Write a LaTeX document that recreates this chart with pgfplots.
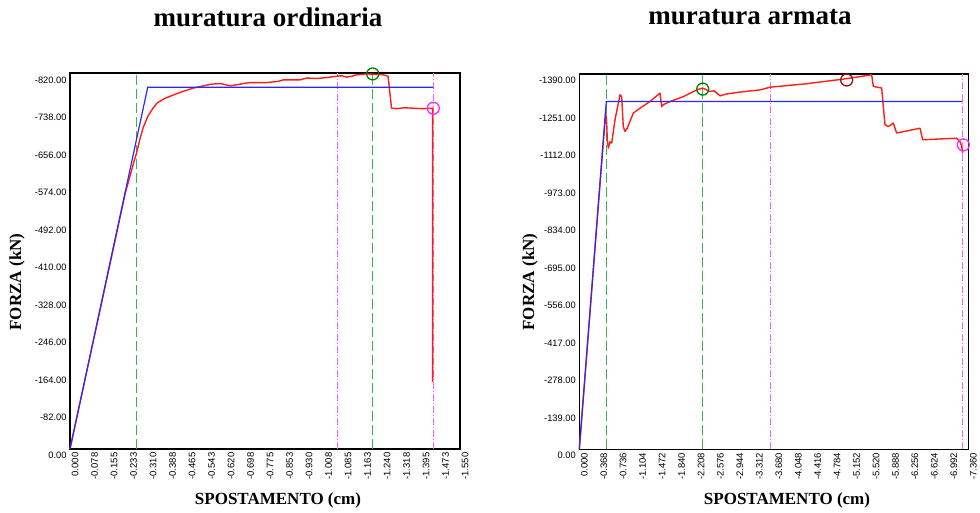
\documentclass[border=0pt]{standalone}
\usepackage{fontspec}
\usepackage{pgfplots}
\pgfplotsset{compat=1.18}
\setmainfont{Liberation Serif}
\newfontfamily\tickfont{Liberation Sans}
\definecolor{cred}{RGB}{255,30,20}
\definecolor{cblue}{RGB}{40,40,255}
\definecolor{cgreen}{RGB}{60,180,80}
\definecolor{cpink}{RGB}{255,100,255}
\definecolor{cgcirc}{RGB}{0,130,0}
\definecolor{cmcirc}{RGB}{255,40,255}
\definecolor{cdcirc}{RGB}{140,20,20}
\pgfplotsset{
  myaxis/.style={
    scale only axis,
    x dir=reverse, y dir=reverse,
    axis line style={black, line width=1.3pt},
    major tick length=0pt,
    tick style={draw=none},
    clip=false,
    xticklabel style={font=\tickfont\fontsize{9.5}{10}\selectfont, xshift=5pt, rotate=90, anchor=east},
    yticklabel style={font=\tickfont\fontsize{9.3}{10}\selectfont, yshift=-6pt},
    redline/.style={cred, line width=1.4pt, line join=round},
    blueline/.style={cblue, line width=1.2pt},
    gdash/.style={cgreen, line width=0.9pt, dash pattern=on 10pt off 4pt},
    pdash/.style={cpink, line width=0.9pt, dash pattern=on 7pt off 2pt on 1pt off 2pt},
  }
}
\begin{document}
\begin{tikzpicture}
\useasboundingbox (0,0) rectangle (980pt,512pt);
% ---------------- left ----------------
\begin{axis}[myaxis,
  at={(70pt,63pt)}, anchor=south west,
  width=390pt, height=376pt,
  xmin=-1.55, xmax=0, ymin=-822, ymax=0,
  xtick={0,-0.0775,-0.155,-0.2325,-0.31,-0.3875,-0.465,-0.5425,-0.62,-0.6975,-0.775,-0.8525,-0.93,-1.0075,-1.085,-1.1625,-1.24,-1.3175,-1.395,-1.4725,-1.55},
  xticklabels={0.000,-0.078,-0.155,-0.233,-0.310,-0.388,-0.465,-0.543,-0.620,-0.698,-0.775,-0.853,-0.930,-1.008,-1.085,-1.163,-1.240,-1.318,-1.395,-1.473,-1.550},
  ytick={0,-82,-164,-246,-328,-410,-492,-574,-656,-738,-820},
  yticklabels={0.00,-82.00,-164.00,-246.00,-328.00,-410.00,-492.00,-574.00,-656.00,-738.00,-820.00},
]
\addplot[gdash] coordinates {(-0.265,0) (-0.265,-822)};
\addplot[gdash] coordinates {(-1.204,0) (-1.204,-822)};
\addplot[pdash] coordinates {(-1.061,0) (-1.061,-822)};
\addplot[pdash] coordinates {(-1.444,0) (-1.444,-822)};
\addplot[redline] coordinates {
(0,0) (-0.22,-560) (-0.255,-630) (-0.265,-648) (-0.278,-678) (-0.291,-703) (-0.31,-728)
(-0.33,-745) (-0.345,-756) (-0.375,-766) (-0.411,-774)
(-0.450,-782) (-0.490,-789) (-0.556,-797) (-0.570,-798) (-0.60,-799) (-0.636,-794) (-0.66,-796)
(-0.69,-799) (-0.715,-801) (-0.782,-801) (-0.83,-804) (-0.848,-807) (-0.914,-807)
(-0.941,-811) (-0.98,-810) (-1.02,-812) (-1.060,-815) (-1.08,-816) (-1.100,-813)
(-1.12,-815) (-1.139,-818) (-1.16,-819) (-1.179,-820) (-1.22,-819) (-1.245,-818)
(-1.264,-815) (-1.278,-745) (-1.298,-744) (-1.330,-746) (-1.364,-745) (-1.400,-744)
(-1.437,-745) (-1.441,-745) (-1.441,-147)};
\addplot[blueline] coordinates {(0,0) (-0.309,-791) (-1.444,-791)};
\addplot[only marks, mark=o, mark size=6pt, mark options={cgcirc, line width=1.3pt}] coordinates {(-1.203,-820)};
\addplot[only marks, mark=o, mark size=6pt, mark options={cmcirc, line width=1.3pt}] coordinates {(-1.444,-745)};
\end{axis}
% ---------------- right ----------------
\begin{axis}[myaxis,
  at={(579.3pt,62.7pt)}, anchor=south west,
  width=389pt, height=375.3pt,
  xmin=-7.36, xmax=0, ymin=-1392, ymax=0,
  xtick={0,-0.368,-0.736,-1.104,-1.472,-1.840,-2.208,-2.576,-2.944,-3.312,-3.680,-4.048,-4.416,-4.784,-5.152,-5.520,-5.888,-6.256,-6.624,-6.992,-7.360},
  xticklabels={0.000,-0.368,-0.736,-1.104,-1.472,-1.840,-2.208,-2.576,-2.944,-3.312,-3.680,-4.048,-4.416,-4.784,-5.152,-5.520,-5.888,-6.256,-6.624,-6.992,-7.360},
  ytick={0,-139,-278,-417,-556,-695,-834,-973,-1112,-1251,-1390},
  yticklabels={0.00,-139.00,-278.00,-417.00,-556.00,-695.00,-834.00,-973.00,-1112.00,-1251.00,-1390.00},
]
\addplot[gdash] coordinates {(-0.518,0) (-0.518,-1392)};
\addplot[gdash] coordinates {(-2.335,0) (-2.335,-1392)};
\addplot[pdash] coordinates {(-3.621,0) (-3.621,-1392)};
\addplot[pdash] coordinates {(-7.254,0) (-7.254,-1392)};
\addplot[redline] coordinates {
(0,0) (-0.45,-1130) (-0.50,-1250) (-0.518,-1210) (-0.53,-1148) (-0.549,-1117)
(-0.581,-1141) (-0.613,-1136) (-0.675,-1222) (-0.770,-1315) (-0.802,-1308)
(-0.832,-1197) (-0.865,-1179) (-0.908,-1191) (-1.022,-1247) (-1.148,-1265)
(-1.337,-1290) (-1.527,-1321) (-1.559,-1271) (-1.589,-1278) (-1.716,-1290)
(-1.968,-1308) (-2.221,-1333) (-2.335,-1340) (-2.473,-1327) (-2.55,-1330)
(-2.663,-1311) (-2.789,-1318) (-3.040,-1325) (-3.418,-1333) (-3.608,-1343)
(-4.302,-1356) (-4.995,-1373) (-5.532,-1389) (-5.562,-1346) (-5.721,-1340)
(-5.783,-1204) (-5.846,-1197) (-5.941,-1210) (-6.005,-1173) (-6.446,-1191)
(-6.497,-1148) (-7.140,-1154) (-7.203,-1141) (-7.235,-1123) (-7.254,-1098)};
\addplot[blueline] coordinates {(0,0) (-0.511,-1290) (-7.254,-1290)};
\addplot[only marks, mark=o, mark size=6pt, mark options={cgcirc, line width=1.3pt}] coordinates {(-2.335,-1336)};
\addplot[only marks, mark=o, mark size=6pt, mark options={cdcirc, line width=1.3pt}] coordinates {(-5.059,-1370)};
\addplot[only marks, mark=o, mark size=6pt, mark options={cmcirc, line width=1.3pt}] coordinates {(-7.266,-1129)};
\end{axis}
% ---------------- titles and labels ----------------
\node[font=\bfseries\fontsize{27}{30}\selectfont] at (268pt,494.7pt) {muratura ordinaria};
\node[font=\bfseries\fontsize{27}{30}\selectfont] at (750pt,494.7pt) {muratura armata};
\node[font=\bfseries\fontsize{17}{20}\selectfont] at (278pt,12pt) {SPOSTAMENTO (cm)};
\node[font=\bfseries\fontsize{17}{20}\selectfont] at (787pt,12pt) {SPOSTAMENTO (cm)};
\node[font=\bfseries\fontsize{17}{20}\selectfont, rotate=90] at (17pt,230pt) {FORZA (kN)};
\node[font=\bfseries\fontsize{17}{20}\selectfont, rotate=90] at (530pt,230pt) {FORZA (kN)};
\end{tikzpicture}
\end{document}
